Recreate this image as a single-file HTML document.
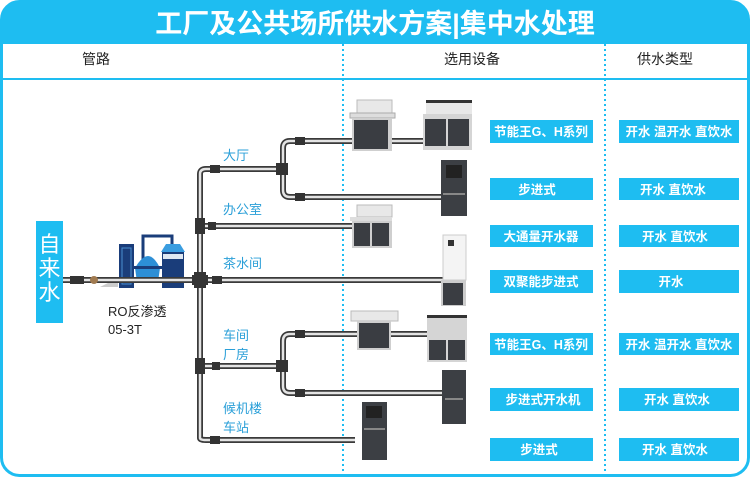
<!DOCTYPE html>
<html><head><meta charset="utf-8"><style>
body{margin:0;background:#fff;}
svg text{font-family:"Liberation Sans","Noto Sans CJK SC",sans-serif;}
</style></head><body>
<svg width="750" height="477" viewBox="0 0 750 477" xmlns="http://www.w3.org/2000/svg">
<defs>
<clipPath id="fr"><rect x="1" y="1" width="748" height="475" rx="18"/></clipPath>
</defs>
<rect x="0" y="0" width="750" height="477" fill="#fff"/>
<g clip-path="url(#fr)">
<rect x="0" y="0" width="750" height="44" fill="#1ebdf1"/>
</g>
<rect x="1.5" y="1.5" width="747" height="474" rx="18" fill="none" stroke="#1ebdf1" stroke-width="3"/>
<line x1="0" y1="79" x2="750" y2="79" stroke="#1ebdf1" stroke-width="2"/>
<line x1="343" y1="44" x2="343" y2="477" stroke="#1ebdf1" stroke-width="2" stroke-dasharray="2,3"/>
<line x1="605" y1="44" x2="605" y2="477" stroke="#1ebdf1" stroke-width="2" stroke-dasharray="2,3"/>
<text x="375" y="33" font-size="27" font-weight="bold" fill="#fff" text-anchor="middle">工厂及公共场所供水方案|集中水处理</text>
<text x="96" y="64" font-size="14" fill="#222" text-anchor="middle">管路</text>
<text x="472" y="64" font-size="14" fill="#222" text-anchor="middle">选用设备</text>
<text x="665" y="64" font-size="14" fill="#222" text-anchor="middle">供水类型</text>

<rect x="36" y="221" width="27" height="102" fill="#1ebdf1"/>
<text x="49.5" y="252" font-size="22" fill="#fff" text-anchor="middle">自</text>
<text x="49.5" y="276" font-size="22" fill="#fff" text-anchor="middle">来</text>
<text x="49.5" y="300" font-size="22" fill="#fff" text-anchor="middle">水</text>

<rect x="119" y="244" width="15" height="44" fill="#1a3d7a"/>
<rect x="122" y="248" width="9" height="36" fill="none" stroke="#4a8fd0" stroke-width="1"/>
<path d="M143 266 L143 236 L172 236 L172 246" fill="none" stroke="#1a3d7a" stroke-width="3"/>
<path d="M135 268 Q142 256 148 256 Q154 256 160 268 L158 282 L137 282 Z" fill="#2d8fd6"/>
<rect x="133" y="266" width="29" height="3" fill="#1a3d7a"/>
<rect x="162" y="252" width="22" height="36" fill="#1a3d7a"/>
<path d="M161 252 L166 244 L180 244 L185 252 Z" fill="#3a9de0"/>
<rect x="163" y="254" width="20" height="5" fill="#dfe8f2"/>
<path d="M100 287 L118 278 L118 287 Z" fill="#ccc"/>

<g fill="none" stroke-linejoin="round">
<g stroke="#3a3a3a" stroke-width="6">
<path d="M63 280 H205"/>
<path d="M200 174 V438 Q200 440 206 440 H355"/>
<path d="M200 174 Q200 169 206 169 H283"/>
<path d="M290 141 Q283 141 283 148 V190 Q283 197 290 197 H443"/>
<path d="M290 141 H445"/>
<path d="M200 226 H352"/>
<path d="M200 280 H443"/>
<path d="M200 366 H283"/>
<path d="M290 334 Q283 334 283 341 V386 Q283 393 290 393 H443"/>
<path d="M290 334 H430"/>
</g>
<g stroke="#e4e4e4" stroke-width="2.5">
<path d="M63 280 H205"/>
<path d="M200 174 V438 Q200 440 206 440 H355"/>
<path d="M200 174 Q200 169 206 169 H283"/>
<path d="M290 141 Q283 141 283 148 V190 Q283 197 290 197 H443"/>
<path d="M290 141 H445"/>
<path d="M200 226 H352"/>
<path d="M200 280 H443"/>
<path d="M200 366 H283"/>
<path d="M290 334 Q283 334 283 341 V386 Q283 393 290 393 H443"/>
<path d="M290 334 H430"/>
</g>
</g>
<g fill="#333">
<rect x="70" y="276" width="14" height="8"/>
<circle cx="94" cy="280" r="4" fill="#a07a50"/>
<rect x="194" y="272" width="12" height="16"/><rect x="192" y="275" width="16" height="10"/>
<rect x="195" y="218" width="10" height="16"/><rect x="208" y="222" width="8" height="8"/>
<rect x="195" y="358" width="10" height="16"/><rect x="212" y="362" width="8" height="8"/>
<rect x="210" y="165" width="10" height="8"/><rect x="212" y="276" width="10" height="8"/>
<rect x="210" y="436" width="10" height="8"/>
<rect x="276" y="163" width="12" height="12"/><rect x="276" y="360" width="12" height="12"/>
<rect x="295" y="137" width="10" height="8"/><rect x="295" y="193" width="10" height="8"/>
<rect x="295" y="330" width="10" height="8"/><rect x="295" y="389" width="10" height="8"/>
</g>

<text x="223" y="160" font-size="13" fill="#2a9fd8">大厅</text>
<text x="223" y="214" font-size="13" fill="#2a9fd8">办公室</text>
<text x="223" y="268" font-size="13" fill="#2a9fd8">茶水间</text>
<text x="223" y="340" font-size="13" fill="#2a9fd8">车间</text>
<text x="223" y="359" font-size="13" fill="#2a9fd8">厂房</text>
<text x="223" y="413" font-size="13" fill="#2a9fd8">候机楼</text>
<text x="223" y="432" font-size="13" fill="#2a9fd8">车站</text>
<text x="108" y="316" font-size="13" fill="#222">RO反渗透</text>
<text x="108" y="334" font-size="13" fill="#222">05-3T</text>

<g>
<rect x="357" y="100" width="35" height="14" fill="#e8e8e8" stroke="#bbb"/>
<rect x="350" y="113" width="45" height="5" fill="#ddd" stroke="#aaa"/>
<rect x="352" y="118" width="40" height="33" fill="#cfcfcf"/>
<rect x="354" y="120" width="34" height="29" fill="#3a3d42"/>
</g>
<g>
<rect x="426" y="100" width="46" height="14" fill="#e8e8e8"/>
<rect x="426" y="100" width="46" height="3" fill="#333"/>
<rect x="423" y="114" width="49" height="36" fill="#d5d5d5"/>
<rect x="425" y="119" width="21" height="27" fill="#3a3d42"/><rect x="448" y="119" width="21" height="27" fill="#3a3d42"/>
</g>
<g>
<rect x="441" y="160" width="26" height="56" fill="#3c3f44"/>
<rect x="446" y="165" width="16" height="13" fill="#222"/>
<rect x="443" y="193" width="22" height="2" fill="#888"/>
</g>
<g>
<rect x="357" y="205" width="35" height="12" fill="#e8e8e8" stroke="#bbb"/>
<rect x="350" y="217" width="42" height="4" fill="#ddd"/>
<rect x="352" y="221" width="40" height="27" fill="#cfcfcf"/>
<rect x="354" y="223" width="16" height="23" fill="#3a3d42"/><rect x="372" y="223" width="17" height="23" fill="#3a3d42"/>
</g>
<g>
<rect x="443" y="235" width="23" height="45" fill="#f4f4f4" stroke="#ccc"/>
<rect x="448" y="240" width="6" height="6" fill="#333"/>
<rect x="441" y="280" width="25" height="26" fill="#ccc"/>
<rect x="443" y="283" width="20" height="22" fill="#3a3d42"/>
</g>
<g>
<rect x="351" y="311" width="47" height="10" fill="#e8e8e8" stroke="#bbb"/>
<rect x="357" y="321" width="34" height="29" fill="#cfcfcf"/>
<rect x="359" y="323" width="30" height="25" fill="#3a3d42"/>
</g>
<g>
<rect x="427" y="315" width="40" height="47" fill="#d5d5d5"/>
<rect x="427" y="315" width="40" height="3" fill="#333"/>
<rect x="429" y="340" width="17" height="20" fill="#3a3d42"/><rect x="448" y="340" width="17" height="20" fill="#3a3d42"/>
</g>
<g>
<rect x="442" y="370" width="24" height="54" fill="#3c3f44"/>
<rect x="445" y="398" width="18" height="2" fill="#888"/>
</g>
<g>
<rect x="362" y="402" width="25" height="58" fill="#3c3f44"/>
<rect x="366" y="406" width="16" height="12" fill="#222"/>
<rect x="364" y="428" width="21" height="2" fill="#888"/>
</g>

<g fill="#1ebdf1">
<rect x="490" y="120" width="103" height="23"/><rect x="619" y="120" width="120" height="23"/>
<rect x="490" y="178" width="103" height="22"/><rect x="619" y="178" width="120" height="22"/>
<rect x="490" y="225" width="103" height="22"/><rect x="619" y="225" width="120" height="22"/>
<rect x="490" y="270" width="103" height="23"/><rect x="619" y="270" width="120" height="23"/>
<rect x="490" y="333" width="103" height="22"/><rect x="619" y="333" width="120" height="22"/>
<rect x="490" y="388" width="103" height="23"/><rect x="619" y="388" width="120" height="23"/>
<rect x="490" y="438" width="103" height="23"/><rect x="619" y="438" width="120" height="23"/>
</g>
<g font-size="12.5" font-weight="bold" fill="#fff" text-anchor="middle" style="white-space:pre">
<text x="541" y="136">节能王G、H系列</text><text x="679" y="136">开水 温开水 直饮水</text>
<text x="537" y="194">步进式</text><text x="673" y="194">开水  直饮水</text>
<text x="541" y="241">大通量开水器</text><text x="675" y="241">开水   直饮水</text>
<text x="541" y="286">双聚能步进式</text><text x="671" y="286">开水</text>
<text x="541" y="349">节能王G、H系列</text><text x="679" y="349">开水 温开水 直饮水</text>
<text x="543" y="404">步进式开水机</text><text x="677" y="404">开水   直饮水</text>
<text x="539" y="454">步进式</text><text x="675" y="454">开水  直饮水</text>
</g>
</svg>
</body></html>
